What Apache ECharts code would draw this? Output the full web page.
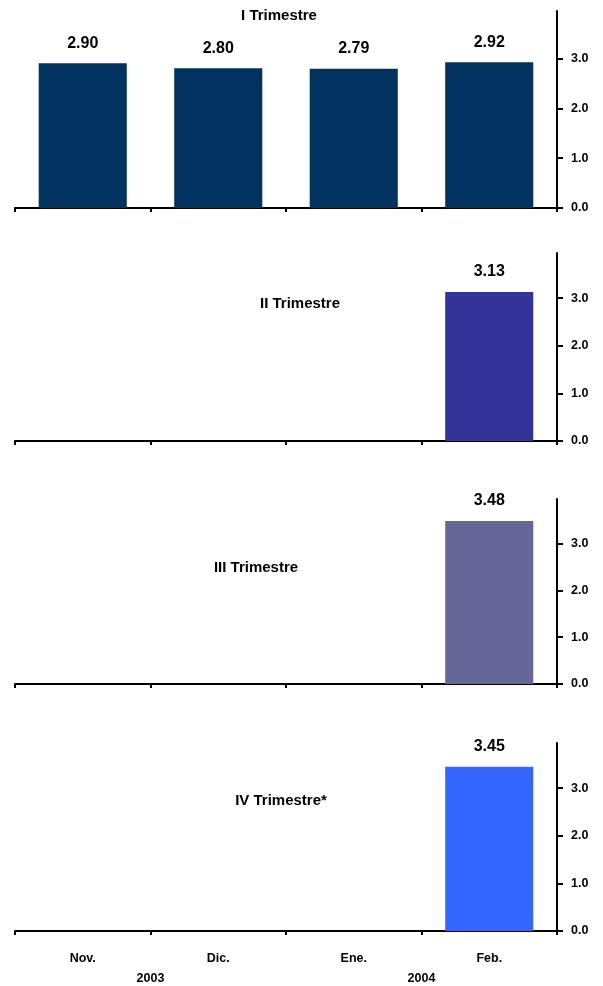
<!DOCTYPE html>
<html>
<head>
<meta charset="utf-8">
<script src="https://cdn.jsdelivr.net/npm/echarts@6/dist/echarts.min.js"></script>
<style>
  html, body { margin: 0; padding: 0; background: #fff; }
  #chart { width: 603px; height: 986px; }
</style>
</head>
<body>
<div id="chart"></div>
<script>
// Months and years on the shared horizontal axis
const months = ['Nov.', 'Dic.', 'Ene.', 'Feb.'];
const years = ['2003', '2004'];
const yearStartIndex = [1, 3];

// Expected values for each quarter, as forecast in each month
const q1Values = [2.90, 2.80, 2.79, 2.92];
const q2Values = [null, null, null, 3.13];
const q3Values = [null, null, null, 3.48];
const q4Values = [null, null, null, 3.45];

const panelTitles = ['I Trimestre', 'II Trimestre', 'III Trimestre', 'IV Trimestre*'];
const yTicks = [0, 1, 2, 3];

const panelValues = [q1Values, q2Values, q3Values, q4Values];
const barColors = ['#02325F', '#333399', '#666699', '#3366FF'];
const gridTops = [11, 253, 499, 743];
const gridHeights = [197, 188, 185, 188];
const titlePos = [[279, 8], [300, 296], [256, 560], [281, 793]];

const FONT = '"Liberation Sans", Arial, sans-serif';
const chart = echarts.init(document.getElementById('chart'));

const grid = [], xAxis = [], yAxis = [], series = [], title = [];

panelValues.forEach((vals, i) => {
  const last = i === panelValues.length - 1;
  grid.push({ left: 15, right: 46, top: gridTops[i], height: gridHeights[i] });
  xAxis.push({
    type: 'category', gridIndex: i, data: months,
    axisLine: { onZero: false, lineStyle: { color: '#000', width: 2 } },
    axisTick: { show: true, length: 4, lineStyle: { color: '#000', width: 2 } },
    axisLabel: {
      show: last, margin: 21, color: '#000', fontFamily: FONT,
      fontWeight: 'bold', fontSize: 12.5
    },
    splitLine: { show: false }
  });
  yAxis.push({
    type: 'value', gridIndex: i, position: 'right', min: 0, max: 3.95,
    axisLine: { show: true, onZero: false, lineStyle: { color: '#000', width: 2 } },
    axisTick: { show: true, length: 6, customValues: yTicks, lineStyle: { color: '#000', width: 2 } },
    axisLabel: {
      customValues: yTicks, margin: 14, color: '#000', fontFamily: FONT,
      fontWeight: 'bold', fontSize: 12.5, formatter: v => v.toFixed(1)
    },
    splitLine: { show: false }
  });
  series.push({
    type: 'bar', xAxisIndex: i, yAxisIndex: i, data: vals,
    barCategoryGap: '35%',
    itemStyle: { color: barColors[i] },
    label: {
      show: true, position: 'top', distance: 12, color: '#000',
      fontFamily: FONT, fontWeight: 'bold', fontSize: 16,
      formatter: p => (p.value == null ? '' : Number(p.value).toFixed(2))
    }
  });
  title.push({
    text: panelTitles[i], left: titlePos[i][0], top: titlePos[i][1],
    textAlign: 'center', padding: 0,
    textStyle: { fontFamily: FONT, fontWeight: 'bold', fontSize: 15, color: '#000' }
  });
});

// Year row under the month labels, centred on the boundary where each year starts
xAxis.push({
  type: 'value', gridIndex: 3, position: 'bottom', min: 0, max: months.length,
  axisLine: { show: false, onZero: false }, axisTick: { show: false }, splitLine: { show: false },
  axisLabel: {
    customValues: yearStartIndex, margin: 41, color: '#000', fontFamily: FONT,
    fontWeight: 'bold', fontSize: 12.5,
    formatter: v => years[yearStartIndex.indexOf(v)] || ''
  }
});

chart.setOption({
  animation: false,
  backgroundColor: '#fff',
  title, grid, xAxis, yAxis, series
});
</script>
</body>
</html>
